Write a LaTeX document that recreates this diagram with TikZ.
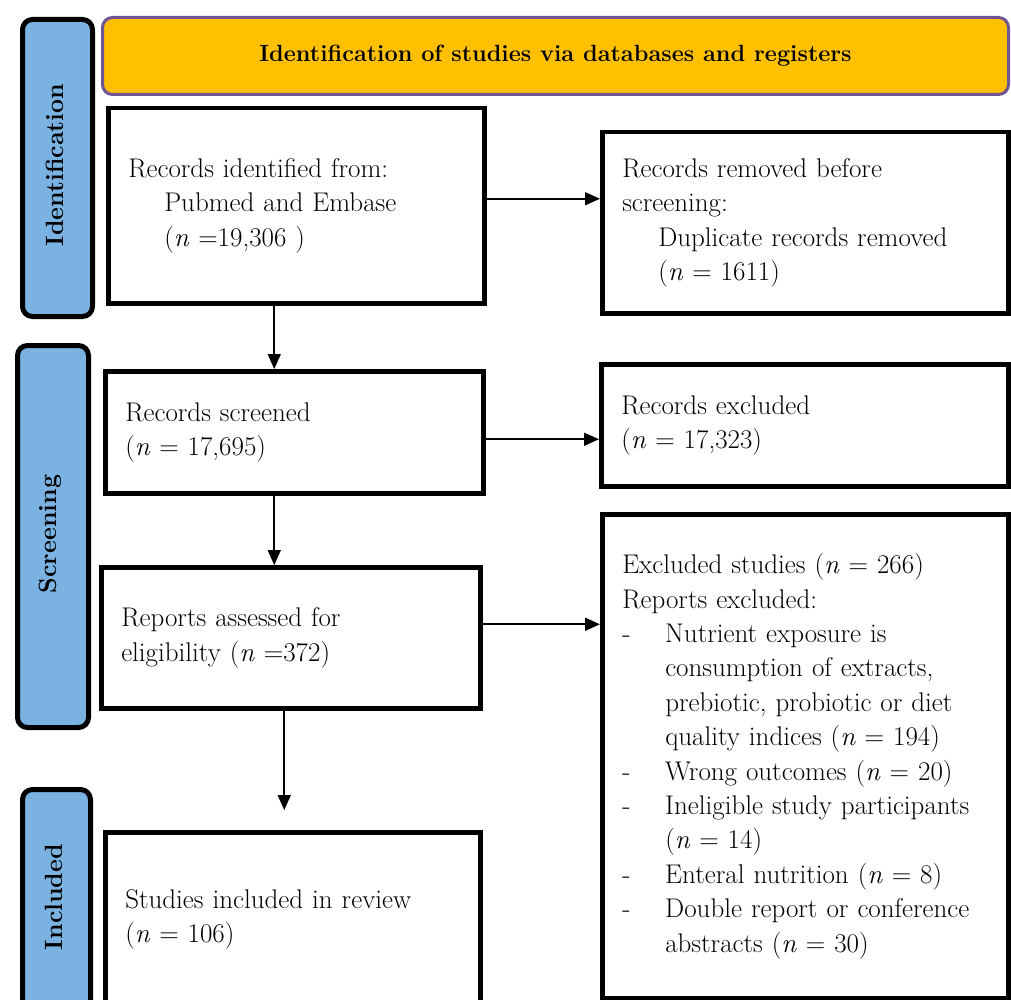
\documentclass[tikz,border=0pt]{standalone}
\usetikzlibrary{arrows.meta}
\definecolor{sideblue}{RGB}{122,178,226}
\definecolor{bannerfill}{RGB}{255,192,0}
\definecolor{bannerline}{RGB}{112,84,150}
\newcommand{\dsh}{\makebox[43pt][l]{-}}
\newcommand{\hgap}{\hspace*{43pt}}
\newcommand{\sgap}{\hspace*{36pt}}
\tikzset{
  box/.style={draw=black, line width=4.5pt, fill=white, anchor=north west,
    inner xsep=20pt, inner ysep=0pt, align=left,
    font=\fontsize{27}{34.4}\selectfont},
  side/.style={draw=black, line width=5pt, fill=sideblue, rounded corners=10pt,
    anchor=north west, inner sep=0pt},
  sidelabel/.style={rotate=90, font=\fontsize{25}{28}\selectfont\bfseries, inner sep=0pt},
  banner/.style={draw=bannerline, line width=3pt, fill=bannerfill, rounded corners=10pt,
    anchor=north west, inner sep=0pt, font=\fontsize{23.5}{28}\selectfont\bfseries},
  arr/.style={line width=1.6pt, -{Triangle[length=15pt,width=13pt]}}
}
\begin{document}
\begin{tikzpicture}[x=1pt,y=-1pt]
\clip (0,0) rectangle (1011,1000);
\fill[white] (0,0) rectangle (1011,1000);

% sidebars
\node[side, minimum width=70pt, minimum height=297pt] (idside) at (20,17) {};
\node[side, minimum width=71pt, minimum height=382pt] (scrside) at (15,343) {};
\node[side, minimum width=68pt, minimum height=240pt] (incside) at (20,787) {};
\node[sidelabel] (idlab) at (55,165) {Identification};
\node[sidelabel] (scrlab) at (50,534) {Screening};
\node[sidelabel] (inclab) at (54,897) {Included};

% banner
\node[banner, minimum width=906pt, minimum height=77pt] (banner) at (101,16)
  {Identification of studies via databases and registers};

% boxes
\node[box, minimum width=376pt, minimum height=195pt, text width=336pt] (ident) at (106,106)
  {Records identified from:\\
   \sgap Pubmed and Embase\\
   \sgap(\textit{n} =19,306 )};
\node[box, minimum width=406pt, minimum height=181pt, text width=366pt] (removed) at (600,130)
  {Records removed before\\
   screening:\\
   \sgap Duplicate records removed\\
   \sgap(\textit{n} = 1611)};
\node[box, minimum width=378pt, minimum height=122pt, text width=338pt] (screened) at (103,369)
  {Records screened\\
   (\textit{n} = 17,695)};
\node[box, minimum width=407pt, minimum height=122pt, text width=367pt] (excluded) at (599,362)
  {Records excluded\\
   (\textit{n} = 17,323)};
\node[box, minimum width=379pt, minimum height=141pt, text width=339pt] (assessed) at (99,565)
  {Reports assessed for\\
   eligibility (\textit{n} =372)};
\node[box, minimum width=406pt, minimum height=484pt, text width=366pt] (reports) at (600,512)
  {Excluded studies (\textit{n} = 266)\\
   Reports excluded:\\
   \dsh Nutrient exposure is\\
   \hgap consumption of extracts,\\
   \hgap prebiotic, probiotic or diet\\
   \hgap quality indices (\textit{n} = 194)\\
   \dsh Wrong outcomes (\textit{n} = 20)\\
   \dsh Ineligible study participants\\
   \hgap (\textit{n} = 14)\\
   \dsh Enteral nutrition (\textit{n} = 8)\\
   \dsh Double report or conference\\
   \hgap abstracts (\textit{n} = 30)};
\node[box, minimum width=375pt, minimum height=174pt, text width=335pt] (included) at (103,830)
  {Studies included in review\\
   (\textit{n} = 106)};

% connectors
\draw[arr] ([yshift=7pt]ident.east) -- ([yshift=7pt]ident.east -| removed.west);
\draw[arr] ([yshift=-7pt]screened.east) -- ([yshift=-7pt]screened.east -| excluded.west);
\draw[arr] ([yshift=13.5pt]assessed.east) -- ([yshift=13.5pt]assessed.east -| reports.west);
\draw[arr] ([xshift=-22pt]ident.south) -- ([xshift=-22pt]ident.south |- screened.north);
\draw[arr] ([xshift=-20pt]screened.south) -- ([xshift=-20pt]screened.south |- assessed.north);
\draw[arr] ([xshift=-6.5pt]assessed.south) -- ([xshift=-6.5pt,yshift=20pt]assessed.south |- included.north);
\end{tikzpicture}
\end{document}
